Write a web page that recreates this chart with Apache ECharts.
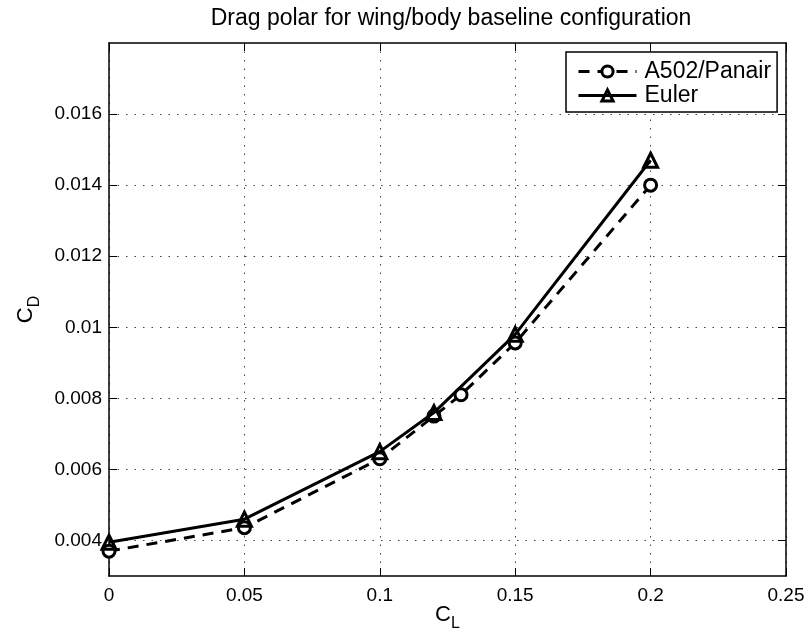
<!DOCTYPE html>
<html>
<head>
<meta charset="utf-8">
<script src="https://cdn.jsdelivr.net/npm/echarts@6/dist/echarts.min.js"></script>
<style>
  html, body { margin: 0; padding: 0; background: #fff; }
  #chart { width: 809px; height: 637px; }
</style>
</head>
<body>
<div id="chart"></div>
<script>
// Lift coefficient stations
const clA502 = [0, 0.05, 0.1, 0.12, 0.13, 0.15, 0.2];
const clEuler = [0, 0.05, 0.1, 0.12, 0.15, 0.2];
// Drag coefficients
const cdA502 = [0.0037, 0.00436, 0.0063, 0.0075, 0.0081, 0.00956, 0.0140];
const cdEuler = [0.00395, 0.0046, 0.0065, 0.0076, 0.0098, 0.0147];
// Tick values
const xTicks = [0, 0.05, 0.1, 0.15, 0.2, 0.25];
const yTicks = [0.004, 0.006, 0.008, 0.01, 0.012, 0.014, 0.016];

const FONT = 'Liberation Sans';
const fmt = v => String(+(+v).toFixed(4));

const frameLine = { show: true, onZero: false, lineStyle: { color: '#000', width: 1.5 } };
const tick = { show: true, inside: true, length: 8, lineStyle: { color: '#000', width: 1 } };
const grid = { show: true, lineStyle: { color: '#444', width: 1, type: [1.5, 7] } };

const chart = echarts.init(document.getElementById('chart'), null, { renderer: 'canvas' });
chart.setOption({
  animation: false,
  backgroundColor: '#fff',
  textStyle: { fontFamily: FONT },
  title: {
    text: 'Drag polar for wing/body baseline configuration',
    left: 446, top: 2, textAlign: 'center',
    textStyle: { fontFamily: FONT, fontWeight: 'normal', fontSize: 23, color: '#000' }
  },
  grid: { left: 109, top: 43, width: 677, height: 533, containLabel: false, outerBoundsMode: 'none' },
  legend: {
    orient: 'vertical',
    left: 566, top: 52,
    padding: [8, 6, 5, 11],
    itemGap: 1,
    itemWidth: 58, itemHeight: 14,
    borderColor: '#000', borderWidth: 1.5, backgroundColor: '#fff',
    lineStyle: { width: 3 },
    itemStyle: { borderWidth: 3 },
    textStyle: { fontFamily: FONT, fontSize: 23, color: '#000', padding: [0, 0, 0, 3] },
    data: ['A502/Panair', 'Euler']
  },
  xAxis: [{
    type: 'value', min: 0, max: 0.25, interval: 0.05, position: 'bottom',
    axisLine: frameLine, axisTick: tick, splitLine: grid,
    axisLabel: { formatter: fmt, fontSize: 19, color: '#000', margin: 10, fontFamily: FONT },
    name: 'C{s|L}', nameLocation: 'middle', nameGap: 22, nameMoveOverlap: false,
    nameTextStyle: {
      fontSize: 22, color: '#000', fontFamily: FONT,
      rich: { s: { fontSize: 16, color: '#000', fontFamily: FONT, padding: [18, 0, 0, 0] } }
    }
  }, {
    type: 'value', min: 0, max: 0.25, interval: 0.05, position: 'top',
    axisLine: frameLine, axisTick: tick, splitLine: { show: false }, axisLabel: { show: false }
  }],
  yAxis: [{
    type: 'value', min: 0.003, max: 0.018, position: 'left',
    axisLine: frameLine,
    axisTick: Object.assign({ customValues: yTicks }, tick),
    splitLine: grid,
    axisLabel: { customValues: yTicks, formatter: fmt, fontSize: 19, color: '#000', margin: 7, fontFamily: FONT },
    name: 'C{s|D}', nameLocation: 'middle', nameGap: 66, nameRotate: 90, nameMoveOverlap: false,
    nameTextStyle: {
      fontSize: 22, color: '#000', fontFamily: FONT,
      rich: { s: { fontSize: 16, color: '#000', fontFamily: FONT, padding: [18, 0, 0, 0] } }
    }
  }, {
    type: 'value', min: 0.003, max: 0.018, position: 'right',
    axisLine: frameLine,
    axisTick: Object.assign({ customValues: yTicks }, tick),
    splitLine: { show: false }, axisLabel: { show: false, customValues: yTicks }
  }],
  series: [{
    name: 'A502/Panair', type: 'line',
    data: clA502.map((x, i) => [x, cdA502[i]]),
    symbol: 'circle', symbolSize: 12, showAllSymbol: true,
    lineStyle: { color: '#000', width: 3, type: [11, 8] },
    itemStyle: { color: '#fff', borderColor: '#000', borderWidth: 3 },
    z: 2
  }, {
    name: 'Euler', type: 'line',
    data: clEuler.map((x, i) => [x, cdEuler[i]]),
    symbol: 'triangle', symbolSize: 14, showAllSymbol: true,
    lineStyle: { color: '#000', width: 3, type: 'solid' },
    itemStyle: { color: 'rgba(255,255,255,0)', borderColor: '#000', borderWidth: 3 },
    z: 3
  }]
});
</script>
</body>
</html>
